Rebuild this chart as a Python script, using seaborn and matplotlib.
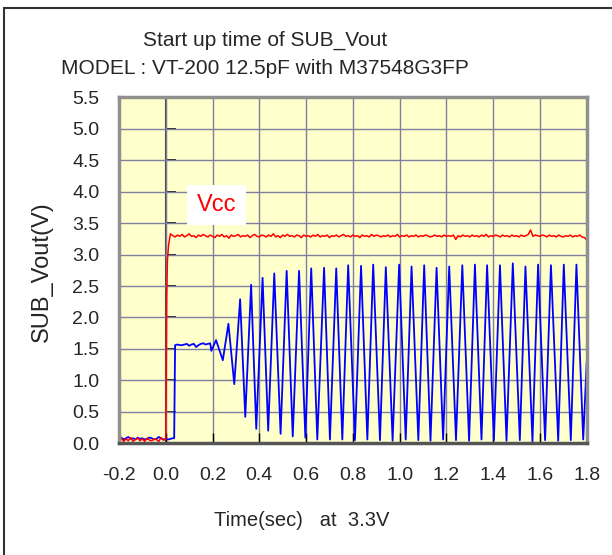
import numpy as np
import pandas as pd
import matplotlib
matplotlib.use("Agg")
import matplotlib.pyplot as plt
from matplotlib.patches import Rectangle
from matplotlib.ticker import FormatStrFormatter
import seaborn as sns

# --- data ---
# pre-trigger noise, sampled every 10 ms from -0.20 s
pre_t0 = -0.20
red_pre = [0.05, 0.08, 0.03, 0.07, 0.04, 0.09, 0.03, 0.06, 0.08, 0.04, 0.07,
           0.03, 0.08, 0.05, 0.04, 0.07, 0.06, 0.03, 0.09, 0.05, 0.06]
blue_pre = [0.07, 0.09, 0.06, 0.08, 0.10, 0.07, 0.08, 0.06, 0.09, 0.07, 0.08,
            0.06, 0.07, 0.09, 0.08, 0.06, 0.07, 0.10, 0.08, 0.06, 0.07]

# Vcc rising edge
red_rise_t = [0.002, 0.004, 0.007, 0.012]
red_rise_v = [1.00, 2.30, 2.90, 3.15]

# Vcc plateau, every 10 ms from 0.02 s
red_t0 = 0.02
red_plateau = [
    3.33, 3.30, 3.28, 3.31, 3.29, 3.32, 3.28, 3.30, 3.33, 3.29,
    3.30, 3.27, 3.31, 3.29, 3.32, 3.30, 3.28, 3.31, 3.29, 3.27,
    3.31, 3.29, 3.32, 3.28, 3.30, 3.26, 3.31, 3.29, 3.30, 3.32,
    3.28, 3.30, 3.29, 3.31, 3.27, 3.30, 3.32, 3.29, 3.28, 3.31,
    3.30, 3.28, 3.31, 3.29, 3.33, 3.28, 3.30, 3.27, 3.31, 3.29,
    3.32, 3.29, 3.30, 3.28, 3.31, 3.30, 3.27, 3.31, 3.29, 3.30,
    3.28, 3.31, 3.29, 3.32, 3.28, 3.30, 3.29, 3.31, 3.27, 3.30,
    3.29, 3.31, 3.28, 3.30, 3.32, 3.29, 3.30, 3.28, 3.31, 3.29,
    3.30, 3.27, 3.31, 3.29, 3.30, 3.28, 3.32, 3.29, 3.31, 3.30,
    3.28, 3.30, 3.29, 3.31, 3.28, 3.30, 3.29, 3.32, 3.28, 3.30,
    3.29, 3.31, 3.28, 3.30, 3.29, 3.31, 3.28, 3.30, 3.29, 3.31,
    3.30, 3.28, 3.29, 3.31, 3.29, 3.30, 3.28, 3.31, 3.29, 3.30,
    3.29, 3.31, 3.24, 3.30, 3.28, 3.31, 3.29, 3.30, 3.28, 3.31,
    3.29, 3.30, 3.28, 3.31, 3.29, 3.32, 3.28, 3.30, 3.29, 3.31,
    3.30, 3.28, 3.31, 3.29, 3.30, 3.28, 3.31, 3.29, 3.30, 3.28,
    3.31, 3.29, 3.30, 3.32, 3.39, 3.29, 3.31, 3.30, 3.29, 3.31,
    3.30, 3.28, 3.31, 3.29, 3.30, 3.28, 3.31, 3.29, 3.28, 3.30,
    3.29, 3.31, 3.28, 3.30, 3.29, 3.31, 3.28, 3.27, 3.23,
]

# SUB_Vout: low until ~36 ms, then jump to a ~1.56 V plateau
blue_low_t = [0.010, 0.020, 0.030, 0.036]
blue_low_v = [0.06, 0.07, 0.08, 0.08]
blue_t1 = 0.04
blue_plateau = [1.56, 1.57, 1.56, 1.56, 1.57, 1.58, 1.55, 1.57,
                1.58, 1.53, 1.56, 1.58, 1.59, 1.57, 1.58, 1.59]

# oscillation peaks / troughs
osc_t = [0.195, 0.215, 0.244, 0.268, 0.293, 0.318, 0.340, 0.365, 0.387, 0.414,
         0.438, 0.464, 0.491, 0.517, 0.543, 0.570, 0.597, 0.622, 0.648, 0.677,
         0.702, 0.729, 0.755, 0.780, 0.809, 0.835, 0.862, 0.887, 0.916, 0.941,
         0.970, 0.998, 1.026, 1.051, 1.080, 1.105, 1.132, 1.158, 1.186, 1.212,
         1.241, 1.268, 1.297, 1.322, 1.350, 1.374, 1.403, 1.429, 1.457, 1.484,
         1.514, 1.538, 1.568, 1.592, 1.622, 1.647, 1.678, 1.702, 1.732, 1.756,
         1.785, 1.800]
osc_v = [1.47, 1.64, 1.32, 1.90, 0.94, 2.29, 0.42, 2.52, 0.23, 2.63,
         0.20, 2.70, 0.15, 2.74, 0.11, 2.74, 0.09, 2.78, 0.06, 2.79,
         0.06, 2.78, 0.06, 2.83, 0.05, 2.82, 0.06, 2.84, 0.05, 2.80,
         0.04, 2.84, 0.06, 2.81, 0.05, 2.83, 0.04, 2.79, 0.06, 2.81,
         0.05, 2.83, 0.04, 2.84, 0.06, 2.83, 0.05, 2.83, 0.04, 2.86,
         0.05, 2.81, 0.03, 2.84, 0.05, 2.83, 0.04, 2.84, 0.05, 2.84,
         0.06, 1.30]

x_ticks = [-0.2, 0.0, 0.2, 0.4, 0.6, 0.8, 1.0, 1.2, 1.4, 1.6, 1.8]
y_ticks = [0.0, 0.5, 1.0, 1.5, 2.0, 2.5, 3.0, 3.5, 4.0, 4.5, 5.0, 5.5]

# --- assemble traces ---
pre_t = pre_t0 + 0.01 * np.arange(len(red_pre))
red = pd.DataFrame({
    "t": np.concatenate([pre_t, red_rise_t, red_t0 + 0.01 * np.arange(len(red_plateau))]),
    "v": np.concatenate([red_pre, red_rise_v, red_plateau]),
})
blue = pd.DataFrame({
    "t": np.concatenate([pre_t, blue_low_t, blue_t1 + 0.01 * np.arange(len(blue_plateau)), osc_t]),
    "v": np.concatenate([blue_pre, blue_low_v, blue_plateau, osc_v]),
})

sns.set_theme(style="white")
plt.rcParams['font.family'] = ['Liberation Sans', 'DejaVu Sans']

fig = plt.figure(figsize=(6.12, 5.55), dpi=100)
ax = fig.add_axes([0.1944, 0.2013, 0.7643, 0.6234])
ax.set_facecolor("#ffffcc")

sns.lineplot(data=blue, x="t", y="v", sort=False, estimator=None,
             color="#0000ff", lw=1.3, ax=ax)
sns.lineplot(data=red, x="t", y="v", sort=False, estimator=None,
             color="#ff0000", lw=1.1, ax=ax)

ax.set_xlim(-0.2, 1.8)
ax.set_ylim(0, 5.5)
ax.set_xticks(x_ticks)
ax.set_yticks(y_ticks)
ax.xaxis.set_major_formatter(FormatStrFormatter('%.1f'))
ax.yaxis.set_major_formatter(FormatStrFormatter('%.1f'))
ax.grid(True, color="#7f7f9f", lw=1.0)
ax.set_axisbelow(True)
ax.set_xlabel("")
ax.set_ylabel("")
ax.tick_params(axis='x', direction='in', length=7, width=1, color='black',
               labelsize=14, pad=17, bottom=True)
ax.tick_params(axis='y', length=0, labelsize=14, pad=14)
for side in ["left", "top", "right"]:
    ax.spines[side].set_color("#909090")
    ax.spines[side].set_linewidth(2.5)
ax.spines["bottom"].set_color("#555555")
ax.spines["bottom"].set_linewidth(2.5)

# axis line at t = 0 with inward ticks
sec = ax.secondary_yaxis(0.1)
sec.set_yticks(y_ticks)
sec.tick_params(direction='in', length=7, width=1.2, color='black', labelleft=False)
sec.spines['left'].set_color('#404040')
sec.spines['left'].set_linewidth(1.5)

# Vcc label in a white box
ax.add_patch(Rectangle((0.092, 3.47), 0.25, 0.64, facecolor="white",
                       edgecolor="none", zorder=3))
ax.text(0.217, 3.79, "Vcc", color="#ff0000", fontsize=17, ha="center", va="center",
        zorder=4)

fig.text(0.433, 0.928, "Start up time of SUB_Vout", fontsize=15, ha="center", va="center")
fig.text(0.433, 0.877, "MODEL : VT-200 12.5pF with M37548G3FP", fontsize=15, ha="center", va="center")
fig.text(0.493, 0.063, "Time(sec)   at  3.3V", fontsize=14.5, ha="center", va="center")
fig.text(0.069, 0.510, "SUB_Vout(V)", fontsize=17, ha="center", va="center", rotation=90)

fig.add_artist(Rectangle((0.006, -0.1), 1.2, 1.0856, transform=fig.transFigure,
                         fill=False, edgecolor="#333333", lw=1.5))

fig.savefig("out.png", dpi=100)
